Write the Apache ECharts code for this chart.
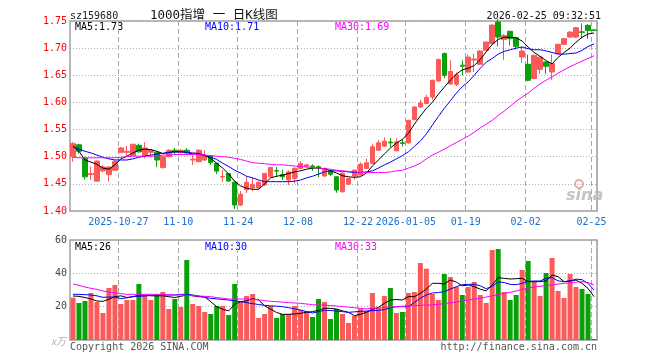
<!DOCTYPE html>
<html><head><meta charset="utf-8">
<script src="https://cdn.jsdelivr.net/npm/echarts@6/dist/echarts.min.js"></script>
<style>html,body{margin:0;padding:0;background:#fff}#c{width:660px;height:360px}</style>
</head><body><div id="c"></div>
<script>
const dates = ['2025-10-15','2025-10-16','2025-10-17','2025-10-20','2025-10-21','2025-10-22','2025-10-23','2025-10-24','2025-10-27','2025-10-28',
'2025-10-29','2025-10-30','2025-10-31','2025-11-03','2025-11-04','2025-11-05','2025-11-06','2025-11-07','2025-11-10','2025-11-11',
'2025-11-12','2025-11-13','2025-11-14','2025-11-17','2025-11-18','2025-11-19','2025-11-20','2025-11-21','2025-11-24','2025-11-25',
'2025-11-26','2025-11-27','2025-11-28','2025-12-01','2025-12-02','2025-12-03','2025-12-04','2025-12-05','2025-12-08','2025-12-09',
'2025-12-10','2025-12-11','2025-12-12','2025-12-15','2025-12-16','2025-12-17','2025-12-18','2025-12-19','2025-12-22','2025-12-23',
'2025-12-24','2025-12-25','2025-12-26','2025-12-29','2025-12-30','2025-12-31','2026-01-05','2026-01-06','2026-01-07','2026-01-08',
'2026-01-09','2026-01-12','2026-01-13','2026-01-14','2026-01-15','2026-01-16','2026-01-19','2026-01-20','2026-01-21','2026-01-22',
'2026-01-23','2026-01-26','2026-01-27','2026-01-28','2026-01-29','2026-01-30','2026-02-02','2026-02-03','2026-02-04','2026-02-05',
'2026-02-06','2026-02-09','2026-02-10','2026-02-11','2026-02-12','2026-02-13','2026-02-24','2026-02-25'];
const tickIdx = [8,18,28,38,48,56,66,76,87];
const tickText = ['2025-10-27','11-10','11-24','12-08','12-22','2026-01-05','01-19','02-02','02-25'];
const priceTicks = [1.40,1.45,1.50,1.55,1.60,1.65,1.70,1.75];
const volTicks = [0,20,40,60];

const opens = [1.500,1.522,1.497,1.467,1.455,1.474,1.467,1.475,1.508,1.508,
1.502,1.521,1.502,1.508,1.508,1.480,1.500,1.512,1.509,1.512,
1.494,1.491,1.494,1.502,1.488,1.4625,1.469,1.453,1.411,1.439,
1.443,1.443,1.448,1.463,1.4745,1.467,1.457,1.460,1.4785,1.482,
1.483,1.4815,1.4644,1.4735,1.463,1.4355,1.4495,1.4643,1.4662,1.4785,
1.4877,1.512,1.5195,1.527,1.5108,1.5255,1.5255,1.5685,1.5917,1.598,
1.610,1.6395,1.690,1.634,1.6335,1.6686,1.656,1.678,1.6702,1.696,
1.7083,1.748,1.7157,1.731,1.7193,1.6837,1.6702,1.644,1.661,1.6745,
1.656,1.690,1.707,1.7204,1.7204,1.730,1.742,1.7335];
const closes = [1.524,1.510,1.463,1.469,1.492,1.481,1.481,1.491,1.516,1.510,
1.523,1.509,1.516,1.512,1.494,1.500,1.512,1.509,1.512,1.507,
1.4955,1.512,1.5017,1.4895,1.4735,1.4635,1.4551,1.411,1.4307,1.4528,
1.449,1.4528,1.4693,1.480,1.4735,1.463,1.472,1.4785,1.4876,1.485,
1.482,1.4805,1.4785,1.4675,1.4386,1.4693,1.460,1.4754,1.4864,1.4888,
1.5182,1.5256,1.5287,1.5255,1.5275,1.5245,1.567,1.5917,1.599,1.609,
1.6408,1.6789,1.650,1.657,1.651,1.6666,1.6835,1.680,1.6947,1.7112,
1.7425,1.7204,1.7235,1.7175,1.7033,1.6947,1.6408,1.6868,1.6836,1.6665,
1.6715,1.707,1.7175,1.7296,1.7377,1.729,1.7327,1.7327];
const lows = [1.491,1.505,1.458,1.457,1.454,1.471,1.454,1.474,1.507,1.502,
1.501,1.507,1.497,1.499,1.481,1.478,1.499,1.503,1.506,1.503,
1.485,1.490,1.492,1.485,1.468,1.454,1.454,1.4036,1.409,1.4331,
1.4368,1.441,1.446,1.462,1.4625,1.457,1.448,1.451,1.477,1.480,
1.474,1.4625,1.463,1.464,1.4335,1.434,1.448,1.458,1.465,1.478,
1.486,1.511,1.518,1.518,1.510,1.519,1.524,1.567,1.590,1.597,
1.605,1.638,1.6448,1.632,1.630,1.650,1.655,1.656,1.669,1.695,
1.707,1.703,1.678,1.705,1.6975,1.6727,1.639,1.643,1.6525,1.6525,
1.6415,1.689,1.706,1.719,1.719,1.718,1.7175,1.731];
const highs = [1.527,1.524,1.500,1.482,1.493,1.485,1.483,1.494,1.518,1.520,
1.523,1.524,1.527,1.514,1.510,1.501,1.514,1.516,1.514,1.516,
1.503,1.514,1.512,1.503,1.489,1.4754,1.470,1.4551,1.437,1.463,
1.4625,1.455,1.470,1.481,1.481,1.476,1.475,1.481,1.492,1.486,
1.486,1.484,1.480,1.476,1.464,1.4717,1.461,1.476,1.4895,1.4968,
1.524,1.531,1.5355,1.534,1.534,1.533,1.568,1.593,1.605,1.614,
1.642,1.681,1.692,1.678,1.655,1.6775,1.6885,1.690,1.696,1.712,
1.744,1.7535,1.726,1.732,1.720,1.7033,1.688,1.688,1.685,1.676,
1.6885,1.708,1.719,1.731,1.739,1.7455,1.744,1.7345];

const ma5 = [1.520,1.510,1.494,1.490,1.486,1.479,1.477,1.485,1.496,1.501,
1.507,1.512,1.514,1.513,1.510,1.506,1.508,1.509,1.509,1.508,
1.505,1.505,1.502,1.497,1.488,1.479,1.468,1.455,1.446,1.442,
1.440,1.440,1.450,1.461,1.464,1.466,1.469,1.472,1.474,1.477,
1.479,1.479,1.478,1.474,1.470,1.465,1.463,1.462,1.463,1.470,
1.483,1.494,1.505,1.516,1.525,1.532,1.543,1.560,1.575,1.589,
1.600,1.615,1.628,1.641,1.652,1.660,1.663,1.668,1.679,1.693,
1.707,1.716,1.720,1.720,1.719,1.713,1.702,1.692,1.685,1.677,
1.671,1.683,1.692,1.700,1.711,1.720,1.726,1.728];
const ma10 = [1.518,1.514,1.510,1.507,1.503,1.499,1.496,1.494,1.494,1.494,
1.496,1.499,1.501,1.503,1.505,1.506,1.508,1.509,1.509,1.508,
1.507,1.506,1.503,1.499,1.495,1.488,1.482,1.475,1.470,1.464,
1.461,1.457,1.454,1.454,1.454,1.454,1.454,1.455,1.457,1.461,
1.464,1.468,1.472,1.474,1.474,1.473,1.472,1.471,1.471,1.472,
1.474,1.479,1.485,1.490,1.496,1.502,1.509,1.519,1.529,1.542,
1.558,1.574,1.589,1.603,1.617,1.629,1.638,1.650,1.663,1.674,
1.681,1.689,1.694,1.697,1.700,1.702,1.699,1.697,1.697,1.695,
1.692,1.689,1.689,1.690,1.691,1.696,1.703,1.708];
const ma30 = [1.499,1.498,1.498,1.498,1.498,1.498,1.498,1.498,1.499,1.500,
1.501,1.501,1.501,1.501,1.501,1.503,1.503,1.504,1.504,1.504,
1.504,1.504,1.503,1.502,1.501,1.500,1.499,1.497,1.495,1.492,
1.489,1.488,1.487,1.486,1.485,1.485,1.484,1.483,1.482,1.481,
1.480,1.479,1.478,1.477,1.475,1.474,1.473,1.472,1.471,1.471,
1.471,1.471,1.471,1.472,1.474,1.475,1.479,1.483,1.488,1.496,
1.503,1.508,1.514,1.520,1.526,1.532,1.538,1.545,1.553,1.560,
1.567,1.576,1.584,1.593,1.602,1.610,1.617,1.626,1.634,1.641,
1.647,1.654,1.660,1.666,1.671,1.676,1.681,1.686];

const volumes = [25.4,22.2,23.4,28.2,22.8,16.2,31.2,33,21.6,24,
24,33.6,27,24,27,28.8,18.6,24.6,19.8,48,
21.6,20.4,16.8,15.6,20.4,20.4,15,33.6,22.8,26.4,
27.6,13.2,15.6,20.4,13.2,15.6,15.6,20.4,18,17.4,
13.8,24.6,22.8,12.6,18.6,15.6,10.2,14.4,18.6,17.4,
28.2,19.2,26.4,31.2,16.2,16.8,28.2,28.8,46.2,42.8,
27.6,24,39.6,37.8,31.8,27,31.8,34.8,27,22.2,
54,54.6,28.8,24,27,42,47.4,35.4,26.4,40.2,
49.2,29.4,25.2,39.6,31.8,30.6,27.6,0.6];
const volMa5 = [26.4,26.2,25.5,24.6,23.4,23.2,24.5,26,26.5,25.5,
26,27,27,26.5,26.5,26.5,26,25.5,26.2,27,
26.5,26,25.8,23,20,18.4,17.5,21.5,23,23.5,
24.8,24,20.5,18.5,16.5,15.4,15.4,15.6,16,16.6,
17,17.8,19,19,18.6,17.5,16.6,14.6,15.4,16.6,
18.4,19.6,22,24,24.3,24,26,26,28,30.5,
34,34,33.6,36,34.8,32.5,33,32,30.5,29.5,
33,37.4,37,36.6,36.8,37,35,35,35,35.5,
39,38,35,35.5,36,34,31,26];
const volMa10 = [27.4,27.4,27.2,27,26.5,25.6,25.8,25.8,24.8,25.3,
26,26.2,26.4,26.8,27,27,27,27,27.4,27.4,
27,26.4,25.6,25,24.7,24.3,24,23.5,23,22.4,
21.8,21.3,20.8,20.5,20.3,20,19.4,18.7,18,17,
16.2,17,17.8,17.7,17.4,17,16.6,16.9,17.2,17.4,
17.6,17.8,18.2,19.3,20,20,20,22.5,25,27,
28.2,28.5,29,30.5,32,33.2,33.4,33.4,32.5,30.8,
32.2,34.8,34.5,33.4,33.2,34,35.2,35.4,35.4,37,
37.5,35.5,35,35.4,36.5,36.2,34,30];
const volMa30 = [33.6,32.8,31.8,31,30.4,29.4,28.8,28.3,27.8,27.4,
27.4,27.4,27.4,27.4,27.4,27.4,27.2,27,27,26.8,
26.6,26.4,26.2,26,25.5,25,24.6,24.6,24.6,24.6,
24.5,24.1,23.6,23.2,23,22.7,22.4,22.2,22,21.6,
21.2,21,20.9,20.7,20.4,20.1,19.7,19.3,19,18.7,
19,19.3,19.5,19.8,20,20.2,20.4,20.6,20.8,21,
21,21.4,21.8,22.3,22.8,23.4,24,24.5,25,25.8,
26.5,27.2,28,28.6,29.4,30.3,31.2,31.8,32.2,32.6,
33.1,33.6,34,34.3,34.7,35,34.5,33];

const UP = '#fa5a5a', DOWN = '#0aa00a';
const MONO = '"DejaVu Sans Mono", monospace';
const candles = dates.map((d, i) => [opens[i], closes[i], lows[i], highs[i]]);
const tickSet = new Set(tickIdx);
const tickLabel = {};
tickIdx.forEach((k, j) => { tickLabel[dates[k]] = tickText[j]; });

const chart = echarts.init(document.getElementById('c'), null, {renderer: 'canvas'});
function txt(text, x, y, fill, extra) {
  return Object.assign({type: 'text', x: x, y: y, silent: true,
    style: Object.assign({text: text, fill: fill, font: '10px ' + MONO, textVerticalAlign: 'middle'}, extra || {})});
}
const lineS = (name, data, color, xi, yi) => ({
  name: name, type: 'line', data: data, xAxisIndex: xi, yAxisIndex: yi,
  symbol: 'none', smooth: false, lineStyle: {color: color, width: 1}, z: 5
});
const option = {
  animation: false,
  backgroundColor: '#ffffff',
  grid: [
    {left: 70, right: 63, top: 21, height: 190, show: true, borderColor: '#a0a0a0', borderWidth: 1.5},
    {left: 70, right: 63, top: 240, height: 100, show: true, borderColor: '#a0a0a0', borderWidth: 1.5}
  ],
  xAxis: [
    {type: 'category', gridIndex: 0, data: dates, boundaryGap: true,
     axisLine: {show: false}, axisTick: {show: false},
     axisLabel: {interval: (i) => tickSet.has(i), formatter: (v) => tickLabel[v] || '',
       color: '#1e6fcf', fontFamily: MONO, fontSize: 10, margin: 6, padding: [0, 5, 0, 0]},
     splitLine: {show: true, interval: (i) => tickSet.has(i), lineStyle: {color: '#a8a8a8', type: [5, 3], width: 1}}},
    {type: 'category', gridIndex: 1, data: dates, boundaryGap: true,
     axisLine: {show: false}, axisTick: {show: false}, axisLabel: {show: false},
     splitLine: {show: true, interval: (i) => tickSet.has(i), lineStyle: {color: '#a8a8a8', type: [5, 3], width: 1}}}
  ],
  yAxis: [
    {type: 'value', gridIndex: 0, min: priceTicks[0], max: priceTicks[priceTicks.length - 1], interval: 0.05,
     axisLine: {show: false}, axisTick: {show: false},
     axisLabel: {color: '#ff0000', fontFamily: MONO, fontSize: 10, margin: 3, formatter: (v) => v.toFixed(2)},
     splitLine: {show: true, lineStyle: {color: '#b0b0b0', type: [1, 2], width: 1}}},
    {type: 'value', gridIndex: 1, min: volTicks[0], max: volTicks[volTicks.length - 1], interval: 20,
     axisLine: {show: false}, axisTick: {show: false},
     axisLabel: {color: '#444', fontFamily: MONO, fontSize: 10, margin: 3, formatter: (v) => v === 0 ? '' : String(v)},
     splitLine: {show: true, lineStyle: {color: '#b0b0b0', type: [1, 2], width: 1}}}
  ],
  series: [
    {type: 'candlestick', data: candles, xAxisIndex: 0, yAxisIndex: 0, barWidth: 5,
     itemStyle: {color: UP, color0: DOWN, borderColor: UP, borderColor0: DOWN, borderWidth: 1}, z: 3},
    lineS('MA5', ma5, '#000000', 0, 0),
    lineS('MA10', ma10, '#0000ff', 0, 0),
    lineS('MA30', ma30, '#ff00ff', 0, 0),
    {type: 'bar', data: volumes, xAxisIndex: 1, yAxisIndex: 1, barWidth: 5,
     itemStyle: {color: (p) => closes[p.dataIndex] >= opens[p.dataIndex] ? UP : DOWN}, z: 3},
    lineS('VMA5', volMa5, '#000000', 1, 1),
    lineS('VMA10', volMa10, '#0000ff', 1, 1),
    lineS('VMA30', volMa30, '#ff00ff', 1, 1)
  ],
  graphic: [
    txt('sz159680', 70, 16, '#222'),
    txt('1000指增 一 日K线图', 150, 16, '#111', {font: '12.5px "DejaVu Sans Mono", "Noto Sans CJK SC", sans-serif'}),
    txt('2026-02-25 09:32:51', 601, 16, '#111', {textAlign: 'right'}),
    txt('MA5:1.73', 75, 27, '#000000'),
    txt('MA10:1.71', 205, 27, '#0000ff'),
    txt('MA30:1.69', 335, 27, '#ff00ff'),
    txt('MA5:26', 75, 247, '#000000'),
    txt('MA10:30', 205, 247, '#0000ff'),
    txt('MA30:33', 335, 247, '#ff00ff'),
    txt('x万', 66, 341, '#b0b0b0', {textAlign: 'right', font: 'italic 10px "Noto Sans CJK SC", sans-serif'}),
    txt('Copyright 2026 SINA.COM', 70, 347, '#555'),
    txt('http://finance.sina.com.cn', 597, 347, '#555', {textAlign: 'right'}),
    {type: 'circle', shape: {cx: 579, cy: 184, r: 4}, style: {fill: 'none', stroke: '#f3a5a5', lineWidth: 2}, silent: true},
    txt('sina', 566, 196, '#c4c4c4', {font: 'italic bold 16px "DejaVu Sans", sans-serif'})
  ]
};
chart.setOption(option);
</script></body></html>
